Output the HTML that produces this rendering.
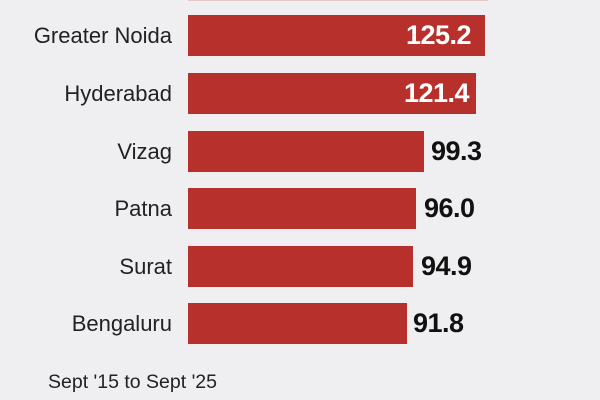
<!DOCTYPE html>
<html><head><style>
html,body{margin:0;padding:0;}
body{width:600px;height:400px;background:#efeff1;position:relative;overflow:hidden;font-family:"Liberation Sans",sans-serif;}
.bar{position:absolute;left:188px;height:41px;background:#b7302b;}
.lab{position:absolute;right:428px;font-size:22px;color:#222;line-height:41px;white-space:nowrap;}
.val{position:absolute;font-size:27px;font-weight:bold;line-height:41px;color:#111;letter-spacing:-0.5px;}
.in{color:#fff;}
</style></head><body>
<div class="bar" style="top:-2px;height:3px;width:300px;background:#e8c8c4"></div>
<div class="bar" style="top:15px;width:297px"></div>
<div class="lab" style="top:15px">Greater Noida</div>
<div class="val in" style="top:15px;left:406px">125.2</div>

<div class="bar" style="top:73px;width:288px"></div>
<div class="lab" style="top:73px">Hyderabad</div>
<div class="val in" style="top:73px;left:404px">121.4</div>

<div class="bar" style="top:131px;width:236px"></div>
<div class="lab" style="top:131px">Vizag</div>
<div class="val" style="top:131px;left:431px">99.3</div>

<div class="bar" style="top:188px;width:228px"></div>
<div class="lab" style="top:188px">Patna</div>
<div class="val" style="top:188px;left:424px">96.0</div>

<div class="bar" style="top:246px;width:225px"></div>
<div class="lab" style="top:246px">Surat</div>
<div class="val" style="top:246px;left:421px">94.9</div>

<div class="bar" style="top:303px;width:219px"></div>
<div class="lab" style="top:303px">Bengaluru</div>
<div class="val" style="top:303px;left:413px">91.8</div>

<div style="position:absolute;left:48px;top:371px;font-size:19.5px;color:#222;">Sept '15 to Sept '25</div>
</body></html>
